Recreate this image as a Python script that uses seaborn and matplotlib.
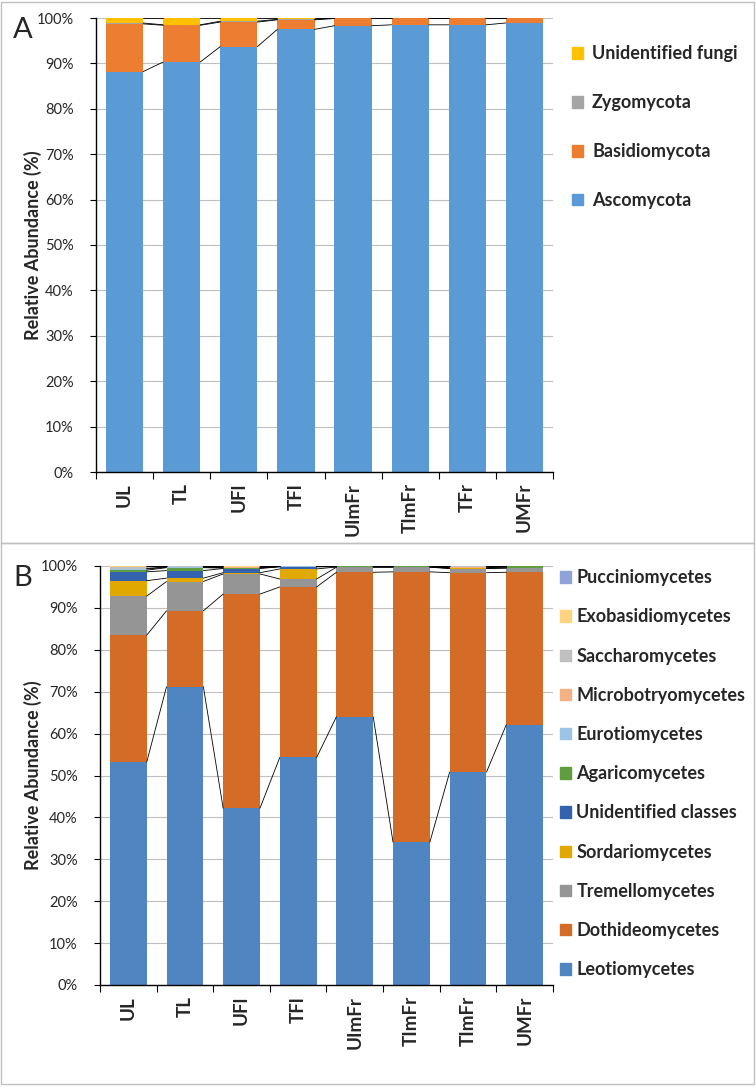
import numpy as np
import matplotlib
matplotlib.use("Agg")
import matplotlib.pyplot as plt
import seaborn as sns
from matplotlib.patches import Patch, Rectangle

sns.set_theme(style="white")
plt.rcParams['font.family'] = ['Lato', 'DejaVu Sans']

# ---- Panel A: phyla ----
samples_a = ["UL", "TL", "UFl", "TFl", "UImFr", "TImFr", "TFr", "UMFr"]
phyla = ["Ascomycota", "Basidiomycota", "Zygomycota", "Unidentified fungi"]
ascomycota = [88.2, 90.3, 93.7, 97.5, 98.3, 98.5, 98.5, 98.9]
basidiomycota = [10.5, 8.1, 5.4, 2.1, 1.6, 1.4, 1.4, 1.0]
zygomycota = [0.2, 0.1, 0.2, 0.1, 0.05, 0.05, 0.05, 0.05]
unidentified_fungi = [1.1, 1.5, 0.7, 0.3, 0.05, 0.05, 0.05, 0.05]
colors_a = ["#5B9BD5", "#ED7D31", "#A5A5A5", "#FFC000"]

# ---- Panel B: classes ----
samples_b = ["UL", "TL", "UFl", "TFl", "UImFr", "TImFr", "TImFr", "UMFr"]
classes = ["Leotiomycetes", "Dothideomycetes", "Tremellomycetes", "Sordariomycetes",
           "Unidentified classes", "Agaricomycetes", "Eurotiomycetes",
           "Microbotryomycetes", "Saccharomycetes", "Exobasidiomycetes", "Pucciniomycetes"]
leotiomycetes = [53.2, 71.2, 42.2, 54.3, 64.0, 34.1, 50.8, 62.1]
dothideomycetes = [30.3, 18.1, 51.1, 40.7, 34.5, 64.5, 47.6, 36.4]
tremellomycetes = [9.3, 7.0, 4.8, 1.9, 1.2, 1.1, 1.0, 1.0]
sordariomycetes = [3.7, 0.8, 0.3, 2.4, 0.05, 0.05, 0.05, 0.05]
unidentified_classes = [2.1, 1.8, 1.0, 0.5, 0.05, 0.05, 0.05, 0.05]
agaricomycetes = [0.4, 0.7, 0.1, 0.05, 0.1, 0.1, 0.05, 0.3]
eurotiomycetes = [0.3, 0.1, 0.1, 0.05, 0.0, 0.0, 0.0, 0.0]
microbotryomycetes = [0.1, 0.1, 0.1, 0.0, 0.0, 0.0, 0.3, 0.0]
saccharomycetes = [0.4, 0.1, 0.1, 0.1, 0.1, 0.1, 0.1, 0.1]
exobasidiomycetes = [0.1, 0.05, 0.2, 0.0, 0.0, 0.0, 0.05, 0.0]
pucciniomycetes = [0.1, 0.05, 0.0, 0.0, 0.0, 0.0, 0.0, 0.0]
colors_b = ["#4F85C0", "#D46C28", "#959595", "#E0A800", "#3462AE", "#5E9E3E",
            "#9DC3E6", "#F4B183", "#C0C0C0", "#FFD37F", "#8FA3D8"]

BAR_W = 0.65
W, H = 756, 1088


def draw_panel(ax, labels, values, colors, left_px):
    cum = np.cumsum(np.array(values, dtype=float), axis=0)
    cum[-1] = 100.0
    x = np.arange(len(labels))
    # overlay cumulative bars, tallest first
    for k in reversed(range(len(values))):
        sns.barplot(x=x, y=cum[k], color=colors[k], width=BAR_W, saturation=1,
                    linewidth=0, ax=ax, zorder=2)
    # series lines between adjacent bars
    for k in range(len(values)):
        xs, ys = [], []
        for i in range(len(labels) - 1):
            xs += [i + BAR_W / 2, i + 1 - BAR_W / 2, np.nan]
            ys += [cum[k][i], cum[k][i + 1], np.nan]
        ax.plot(xs, ys, color="black", lw=0.6, zorder=3)
    ax.set_xlim(-0.5, len(labels) - 0.5)
    ax.set_ylim(0, 100)
    ax.set_yticks(range(0, 101, 10))
    ax.set_yticklabels([f"{v}%" for v in range(0, 101, 10)], fontsize=10.5)
    ax.set_xticks(x)
    ax.set_xticklabels(labels, rotation=90, fontsize=13.5, fontweight="bold")
    ax.set_xticks(np.arange(-0.5, len(labels), 1), minor=True)
    ax.tick_params(axis="x", which="major", length=0, pad=8)
    ax.tick_params(axis="x", which="minor", bottom=True, length=5, color="black", width=0.8)
    ax.tick_params(axis="y", left=True, length=4, color="black", width=0.8, pad=12)
    ax.yaxis.grid(True, color="#BFBFBF", lw=0.8)
    ax.set_axisbelow(True)
    for s in ["top", "right"]:
        ax.spines[s].set_visible(False)
    for s in ["left", "bottom"]:
        ax.spines[s].set_color("black")
        ax.spines[s].set_linewidth(1.0)
    ax.set_xlabel("")
    ax.set_ylabel("Relative Abundance (%)", fontsize=13, fontweight="bold")
    # right edge of the rotated label sits at x = 42 px
    ax.yaxis.set_label_coords((42 - left_px) / (553 - left_px), 0.5)


fig = plt.figure(figsize=(W / 100, H / 100), dpi=100)

ax_a = fig.add_axes([96 / W, 1 - 472 / H, (553 - 96) / W, (472 - 18) / H])
draw_panel(ax_a, samples_a, [ascomycota, basidiomycota, zygomycota, unidentified_fungi],
           colors_a, 96)

ax_b = fig.add_axes([100 / W, 1 - 985 / H, (553 - 100) / W, (985 - 566) / H])
draw_panel(ax_b, samples_b,
           [leotiomycetes, dothideomycetes, tremellomycetes, sordariomycetes,
            unidentified_classes, agaricomycetes, eurotiomycetes, microbotryomycetes,
            saccharomycetes, exobasidiomycetes, pucciniomycetes], colors_b, 100)

# legends (reverse order, as in the original)
h_a = [Patch(color=c, label=n) for n, c in zip(phyla, colors_a)][::-1]
fig.legend(handles=h_a, loc="upper left", bbox_to_anchor=(565 / W, 1 - 38 / H),
           frameon=False, prop={"weight": "bold", "size": 13}, handlelength=0.6,
           handleheight=0.6, handletextpad=0.5, labelspacing=1.77, borderaxespad=0)
h_b = [Patch(color=c, label=n) for n, c in zip(classes, colors_b)][::-1]
fig.legend(handles=h_b, loc="upper left", bbox_to_anchor=(553 / W, 1 - 562 / H),
           frameon=False, prop={"weight": "bold", "size": 13}, handlelength=0.6,
           handleheight=0.6, handletextpad=0.3, labelspacing=1.23, borderaxespad=0)

# panel letters and frames
fig.text(13 / W, 1 - 38 / H, "A", fontsize=21)
fig.text(13 / W, 1 - 586 / H, "B", fontsize=21)
fig.add_artist(Rectangle((1 / W, 1 - 543 / H), 753 / W, 541 / H, transform=fig.transFigure,
                         fill=False, edgecolor="#BFBFBF", lw=1))
fig.add_artist(Rectangle((1 / W, 1 - 1084 / H), 753 / W, 541 / H, transform=fig.transFigure,
                         fill=False, edgecolor="#BFBFBF", lw=1))

fig.savefig("out.png", dpi=100)
